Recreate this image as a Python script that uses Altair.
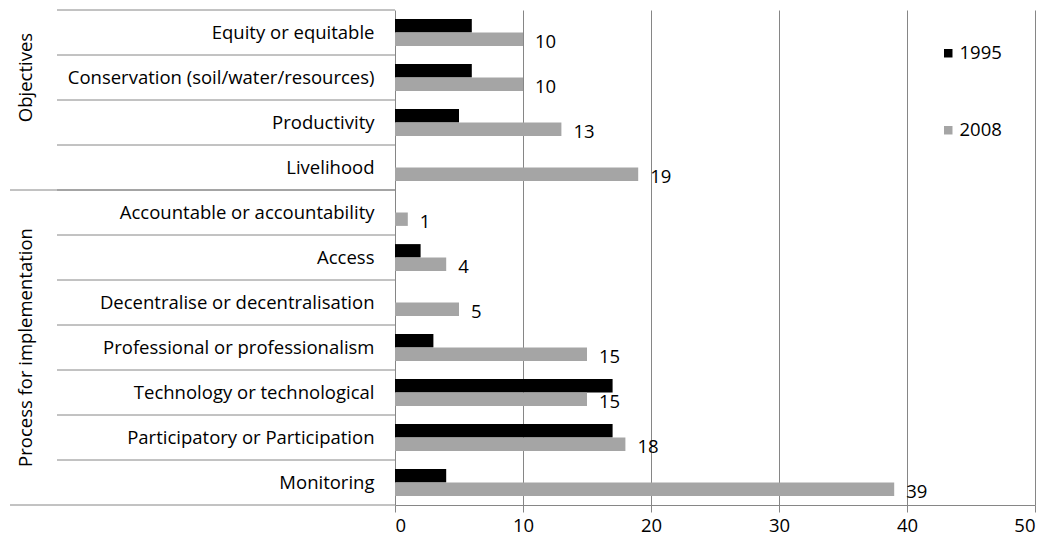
import altair as alt
import pandas as pd

categories = [
    "Equity or equitable",
    "Conservation (soil/water/resources)",
    "Productivity",
    "Livelihood",
    "Accountable or accountability",
    "Access",
    "Decentralise or decentralisation",
    "Professional or professionalism",
    "Technology or technological",
    "Participatory or Participation",
    "Monitoring",
]
groups = ["Objectives"] * 4 + ["Process for implementation"] * 7
values_1995 = [6, 6, 5, 0, 0, 2, 0, 3, 17, 17, 4]
values_2008 = [10, 10, 13, 19, 1, 4, 5, 15, 15, 18, 39]
series = ["1995", "2008"]
colors = ["#000000", "#a5a5a5"]
group_names = ["Objectives", "Process for implementation"]
group_anchor = ["Conservation (soil/water/resources)", "Professional or professionalism"]
group_starts = ["Accountable or accountability"]
group_ends = ["Monitoring"]

FONT = "Open Sans"
FS = 18.5
GRID = "#868686"

rows = []
for c, g, a, b in zip(categories, groups, values_1995, values_2008):
    rows.append({"category": c, "group": g, "series": "1995", "value": a})
    rows.append({"category": c, "group": g, "series": "2008", "value": b})
df = pd.DataFrame(rows)

y_enc = alt.Y(
    "category:N",
    sort=categories,
    scale=alt.Scale(paddingInner=0, paddingOuter=0),
    axis=alt.Axis(
        title=None, domain=False, ticks=False, labelPadding=21,
        labelFontSize=FS, labelColor="black", labelFont=FONT, labelLimit=400,
    ),
)
yoff_enc = alt.YOffset("series:N", sort=series, scale=alt.Scale(paddingInner=0, paddingOuter=0.68))
x_enc = alt.X(
    "value:Q",
    scale=alt.Scale(domain=[0, 50]),
    axis=alt.Axis(
        title=None, values=[0, 10, 20, 30, 40, 50], grid=True, gridColor=GRID,
        domainColor=GRID, tickColor=GRID, tickSize=7, labelFontSize=FS,
        labelColor="black", labelFont=FONT, labelPadding=4,
    ),
)

bars = alt.Chart(df).mark_bar().encode(
    y=y_enc,
    yOffset=yoff_enc,
    x=x_enc,
    color=alt.Color(
        "series:N",
        scale=alt.Scale(domain=series, range=colors),
        legend=alt.Legend(
            title=None, orient="none", legendX=544, legendY=34, symbolType="square",
            symbolSize=72, labelFontSize=FS, labelFont=FONT, labelColor="black",
            rowPadding=58, symbolStrokeWidth=0, labelOffset=2,
        ),
    ),
)

labels = alt.Chart(df).transform_filter(alt.datum.series == "2008").mark_text(
    align="left", baseline="middle", dx=12, dy=3, fontSize=FS, font=FONT, color="black"
).encode(
    y=alt.Y("category:N", sort=categories),
    yOffset=alt.YOffset("series:N", sort=series),
    x="value:Q",
    text="value:Q",
)

cat_df = pd.DataFrame({"category": categories})
sep_short = alt.Chart(cat_df).mark_rule(color=GRID, strokeWidth=1).encode(
    y=alt.Y("category:N", sort=categories, bandPosition=0),
    x=alt.value(-338),
    x2=alt.value(0),
)
sep_long_top = alt.Chart(pd.DataFrame({"category": group_starts})).mark_rule(color=GRID, strokeWidth=1).encode(
    y=alt.Y("category:N", sort=categories, bandPosition=0),
    x=alt.value(-385),
    x2=alt.value(0),
)
sep_long_bottom = alt.Chart(pd.DataFrame({"category": group_ends})).mark_rule(color=GRID, strokeWidth=1).encode(
    y=alt.Y("category:N", sort=categories, bandPosition=1),
    x=alt.value(-385),
    x2=alt.value(0),
)

group_labels = alt.Chart(pd.DataFrame({"group": group_names, "category": group_anchor})).mark_text(
    angle=270, align="center", baseline="middle", fontSize=FS, font=FONT, color="black"
).encode(
    y=alt.Y("category:N", sort=categories),
    x=alt.value(-369),
    text="group:N",
)

chart = alt.layer(bars, labels, sep_short, sep_long_top, sep_long_bottom, group_labels).properties(
    width=640,
    height=495,
    autosize=alt.AutoSizeParams(type="none"),
    padding={"left": 387, "top": 2, "right": 2, "bottom": 34},
).configure_view(stroke=None)

chart.save("out.html", embed_options={"renderer": "svg", "actions": False})
